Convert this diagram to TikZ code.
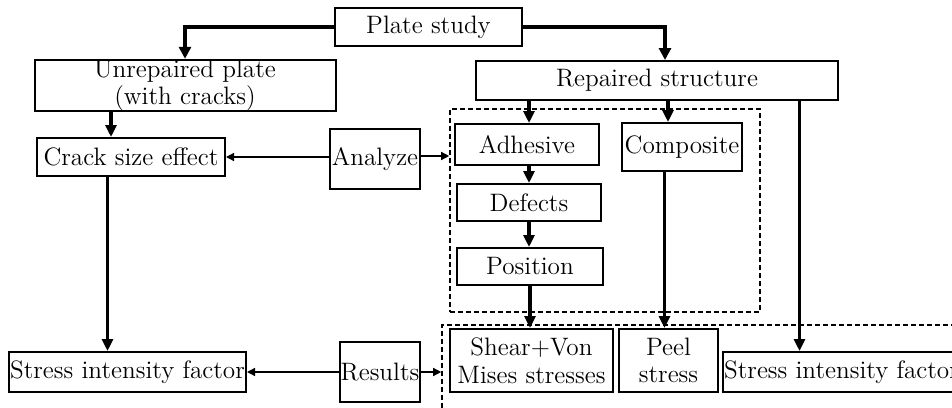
\documentclass[tikz,border=0pt]{standalone}
\usepackage{amsmath,amssymb}
\usepackage{tikz}
\usetikzlibrary{positioning,arrows.meta,calc}
\tikzset{
  box/.style={draw,line width=1pt,inner sep=0pt,align=center,font=\fontsize{12.6}{13.8}\selectfont},
  groupbox/.style={draw,line width=0.8pt,dash pattern=on 2.4pt off 1.6pt,inner sep=0pt},
  heavy/.style={line width=2.2pt,-{Triangle[length=6pt,width=6pt]}},
  flow/.style={line width=1.7pt,-{Triangle[length=6pt,width=5.5pt]}},
  link/.style={line width=0.7pt,-{Triangle[length=4pt,width=4pt]}}
}
\begin{document}
\begin{tikzpicture}[x=0.5pt,y=-0.5pt]
			\useasboundingbox (0,0) rectangle (952,407);
			% dashed groups
			\node[groupbox,minimum width=155pt,minimum height=101.5pt] (repgrp) at (605,210.5) {};
			\node[groupbox,minimum width=258pt,minimum height=45pt] (resgrp) at (700,370) {};
			% boxes
			\node[box,minimum width=93.5pt,minimum height=19pt] (plate) at (428.5,27) {Plate study};
			\node[box,minimum width=150.5pt,minimum height=22.5pt] (unrep) at (185,85.5) {Unrepaired plate\\(with cracks)};
			\node[box,minimum width=181pt,minimum height=19.5pt] (repair) at (657,80.5) {Repaired structure};
			\node[box,minimum width=94pt,minimum height=19pt] (crack) at (131,157) {Crack size effect};
			\node[box,minimum width=45pt,minimum height=30pt] (analyze) at (375,159) {Analyze};
			\node[box,minimum width=72pt,minimum height=20.5pt] (adhes) at (527,144.5) {Adhesive};
			\node[box,minimum width=60pt,minimum height=24pt] (compo) at (682,147) {Composite};
			\node[box,minimum width=72pt,minimum height=18.5pt] (defect) at (529,202.5) {Defects};
			\node[box,minimum width=73pt,minimum height=18.5pt] (posit) at (530,266.5) {Position};
			\node[box,minimum width=81.5pt,minimum height=31.5pt] (shear) at (531.5,360.5) {Shear+Von\\Mises stresses};
			\node[box,minimum width=49.5pt,minimum height=31.5pt] (peel) at (668.5,360.5) {Peel\\stress};
			\node[box,minimum width=118.5pt,minimum height=20pt] (sifL) at (127.5,372) {Stress intensity factor};
			\node[box,minimum width=40pt,minimum height=30pt] (results) at (380,372) {Results};
			\node[box,minimum width=118.5pt,minimum height=20pt] (sifR) at (841.5,372) {Stress intensity factor};
			% connectors
			\draw[heavy] (plate.west) -| (unrep.north);
			\draw[heavy] (plate.east) -| ([xshift=4pt]repair.north);
			\draw[flow] ([xshift=-10pt]crack.north |- unrep.south) -- ([xshift=-10pt]crack.north);
			\draw[flow] ([xshift=-10pt]sifL.north |- crack.south) -- ([xshift=-10pt]sifL.north);
			\draw[link] (analyze.west |- crack.east) -- (crack.east);
			\draw[link] ([yshift=1.5pt]analyze.east) -- ([yshift=1.5pt]analyze.east -| repgrp.west);
			\draw[flow] ([xshift=1pt]adhes.north |- repair.south) -- ([xshift=1pt]adhes.north);
			\draw[flow] ([xshift=-7pt]compo.north |- repair.south) -- ([xshift=-7pt]compo.north);
			\draw[flow] ([xshift=-21pt]sifR.north |- repair.south) -- ([xshift=-21pt]sifR.north);
			\draw[flow] (defect.north |- adhes.south) -- (defect.north);
			\draw[flow] (defect.south) -- (defect.south |- posit.north);
			\draw[flow] (posit.south) -- (posit.south |- shear.north);
			\draw[flow] ([xshift=-2pt]peel.north |- compo.south) -- ([xshift=-2pt]peel.north);
			\draw[link] (results.west |- sifL.east) -- (sifL.east);
			\draw[link] (results.east) -- (results.east -| resgrp.west);
		\end{tikzpicture}
\end{document}
